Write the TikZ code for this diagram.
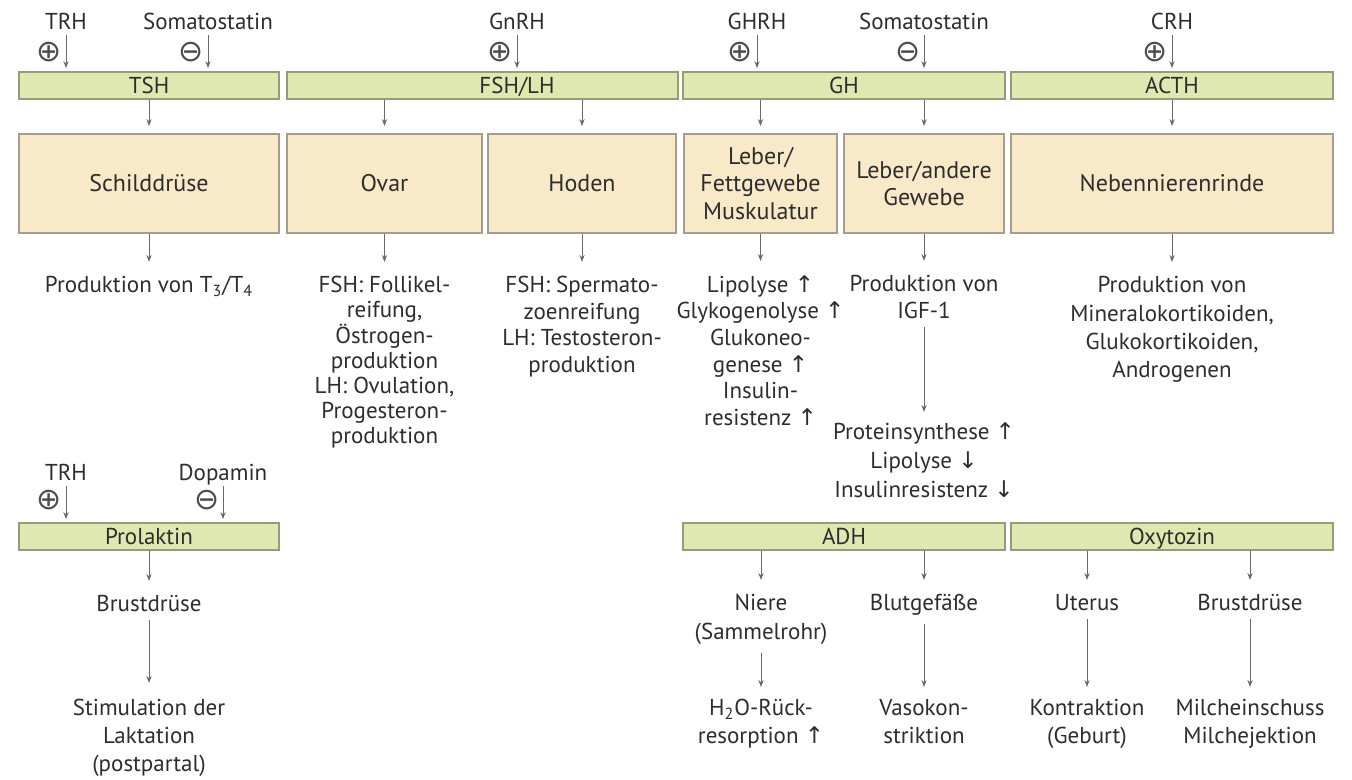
\documentclass[tikz,border=0pt]{standalone}
\usepackage{fontspec}
\setmainfont{PT Sans}
\newfontfamily\symfont{DejaVu Sans}
\usetikzlibrary{
    arrows.meta,
    calc,
    positioning
}
\definecolor{barfill}{RGB}{223,232,177}
\definecolor{barline}{RGB}{148,156,124}
\definecolor{boxfill}{RGB}{248,234,200}
\definecolor{boxline}{RGB}{165,158,140}
\definecolor{arrgray}{RGB}{105,105,105}
\definecolor{txtgray}{RGB}{45,45,45}
\newcommand{\hoch}{{\symfont\char"2191}}
\newcommand{\runter}{{\symfont\char"2193}}

\begin{document}
\begin{tikzpicture}[x=0.5pt, y=-0.5pt,
        font=\fontsize{11.5}{13.3}\selectfont, text=txtgray,
        hormone/.style={draw=barline, fill=barfill, line width=0.9pt, minimum height=13.5pt, inner sep=0pt, text height=8pt, text depth=0pt},
        organ/.style={draw=boxline, fill=boxfill, line width=0.9pt, minimum height=49.5pt, inner sep=0pt, align=center, font=\fontsize{12}{13.8}\selectfont},
        effect/.style={anchor=north, inner sep=0pt, align=center},
        input/.style={inner sep=0pt, text depth=0pt},
        sign/.style={inner sep=0pt, font=\fontsize{15}{15}\symfont, text=black!70},
        arr/.style={draw=arrgray, line width=0.5pt, -{Stealth[length=3.5pt, width=2.6pt]}, shorten <=0pt, shorten >=7pt},
        wide/.style={font=\fontsize{11.5}{14.5}\selectfont}
    ]
        \useasboundingbox (0,0) rectangle (1352,780);

        % Steuerhormone oben
        \node[input] (trh) at (66,21) {TRH};
        \node[input] (soma) at (208,21) {Somatostatin};
        \node[input] (gnrh) at (517,21) {GnRH};
        \node[input] (ghrh) at (757,21) {GHRH};
        \node[input] (somb) at (924,21) {Somatostatin};
        \node[input] (crh) at (1172,21) {CRH};
        \node[sign] (trhplus) at (49,52) {⊕};
        \node[sign] (somaminus) at (191,52) {⊖};
        \node[sign] (gnrhplus) at (500,52) {⊕};
        \node[sign] (ghrhplus) at (740,52) {⊕};
        \node[sign] (sombminus) at (908,52) {⊖};
        \node[sign] (crhplus) at (1155,52) {⊕};

        % Hypophysenhormone
        \node[hormone, minimum width=130pt] (tsh) at (149,85.5) {TSH};
        \node[hormone, minimum width=195.5pt] (fshlh) at (482.5,85.5) {};
        \node[hormone, draw=none, fill=none] (fshlhtext) at (517,85.5) {FSH/LH};
        \node[hormone, minimum width=161pt] (gh) at (844,85.5) {GH};
        \node[hormone, minimum width=161pt] (acth) at (1172,85.5) {ACTH};

        \foreach \src/\dst in {trh/tsh, soma/tsh, gnrh/fshlh, ghrh/gh, somb/gh, crh/acth}
            \draw[arr, shorten <=2.5pt, shorten >=1.5pt] (\src) -- (\src |- \dst.north);

        % Zielorgane
        \node[organ, minimum width=130pt] (schild) at (149,183.5) {Schilddrüse};
        \node[organ, minimum width=97.5pt] (ovar) at (384.5,183.5) {Ovar};
        \node[organ, minimum width=94pt] (hoden) at (582,183.5) {Hoden};
        \node[organ, minimum width=76.5pt] (leberfett) at (760.5,183.5) {Leber/\\Fettgewebe\\Muskulatur};
        \node[organ, minimum width=80pt] (leberand) at (924,183.5) {Leber/andere\\Gewebe};
        \node[organ, minimum width=161pt] (nnr) at (1172,183.5) {Nebennierenrinde};

        \draw[arr, shorten >=3.5pt] (tsh) -- (schild);
        \draw[arr, shorten >=3.5pt] (ovar |- fshlh.south) -- (ovar);
        \draw[arr, shorten >=3.5pt] (hoden |- fshlh.south) -- (hoden);
        \draw[arr, shorten >=3.5pt] (leberfett |- gh.south) -- (leberfett);
        \draw[arr, shorten >=3.5pt] (leberand |- gh.south) -- (leberand);
        \draw[arr, shorten >=3.5pt] (acth) -- (nnr);

        % Wirkungen
        \node[effect] (t3t4) at (149,276) {Produktion von T\textsubscript{3}/T\textsubscript{4}};
        \node[effect, font=\fontsize{11.5}{12.6}\selectfont] (ovareff) at (384.5,276) {FSH: Follikel-\\reifung,\\Östrogen-\\produktion\\LH: Ovulation,\\Progesteron-\\produktion};
        \node[effect] (hodeneff) at (582,276) {FSH: Spermato-\\zoenreifung\\LH: Testosteron-\\produktion};
        \node[effect] (leberfetteff) at (760.5,275) {Lipolyse~\hoch\\Glykogenolyse~\hoch\\Glukoneo-\\genese~\hoch\\Insulin-\\resistenz~\hoch};
        \node[effect] (igf) at (924,275) {Produktion von\\IGF-1};
        \node[effect, wide] (igfeff) at (924,422) {Proteinsynthese~\hoch\\Lipolyse~\runter\\Insulinresistenz~\runter};
        \node[effect, font=\fontsize{11.5}{14.2}\selectfont] (nnreff) at (1172,276) {Produktion von\\Mineralokortikoiden,\\Glukokortikoiden,\\Androgenen};

        \draw[arr] (schild) -- (t3t4);
        \draw[arr] (ovar) -- (ovareff);
        \draw[arr] (hoden) -- (hodeneff);
        \draw[arr] (leberfett) -- (leberfetteff);
        \draw[arr] (leberand) -- (igf);
        \draw[arr] (nnr) -- (nnreff);
        \draw[arr, shorten <=4pt, shorten >=5pt] (igf) -- (igfeff);

        % Prolaktin
        \node[input] (trhb) at (66,472) {TRH};
        \node[input] (dopa) at (223,472) {Dopamin};
        \node[sign] (trhbplus) at (49,500) {⊕};
        \node[sign] (dopaminus) at (207,500) {⊖};
        \node[hormone, minimum width=130pt] (prl) at (149,536.5) {Prolaktin};
        \draw[arr, shorten <=2.5pt, shorten >=1.5pt] (trhb) -- (trhb |- prl.north);
        \draw[arr, shorten <=2.5pt, shorten >=1.5pt] (dopa) -- (dopa |- prl.north);

        \node[effect] (brusta) at (149,595) {Brustdrüse};
        \node[effect, font=\fontsize{11.5}{14}\selectfont] (laktation) at (149,699) {Stimulation der\\Laktation\\(postpartal)};
        \draw[arr] (prl) -- (brusta);
        \draw[arr, shorten <=4pt, shorten >=8pt] (brusta) -- (laktation);

        % Hypophysenhinterlappen
        \node[hormone, minimum width=161pt] (adh) at (844,536.5) {ADH};
        \node[hormone, minimum width=161pt] (oxt) at (1172,536.5) {Oxytozin};

        \node[effect, wide] (niere) at (761,594) {Niere\\(Sammelrohr)};
        \node[effect] (blut) at (924,594) {Blutgefäße};
        \node[effect] (uterus) at (1087,594) {Uterus};
        \node[effect] (brustb) at (1250,594) {Brustdrüse};
        \node[effect, font=\fontsize{11.5}{14}\selectfont] (rueck) at (761,699) {H\textsubscript{2}O-Rück-\\resorption~\hoch};
        \node[effect, font=\fontsize{11.5}{14}\selectfont] (vaso) at (924,699) {Vasokon-\\striktion};
        \node[effect, font=\fontsize{11.5}{14}\selectfont] (kontra) at (1087,699) {Kontraktion\\(Geburt)};
        \node[effect, font=\fontsize{11.5}{14}\selectfont] (milch) at (1250,699) {Milcheinschuss\\Milchejektion};

        \draw[arr] (niere |- adh.south) -- (niere);
        \draw[arr] (blut |- adh.south) -- (blut);
        \draw[arr] (uterus |- oxt.south) -- (uterus);
        \draw[arr] (brustb |- oxt.south) -- (brustb);
        \draw[arr, shorten <=4pt, shorten >=6pt] (niere) -- (rueck);
        \draw[arr, shorten <=4pt, shorten >=6pt] (blut) -- (vaso);
        \draw[arr, shorten <=4pt, shorten >=6pt] (uterus) -- (kontra);
        \draw[arr, shorten <=4pt, shorten >=6pt] (brustb) -- (milch);
    \end{tikzpicture}
\end{document}
